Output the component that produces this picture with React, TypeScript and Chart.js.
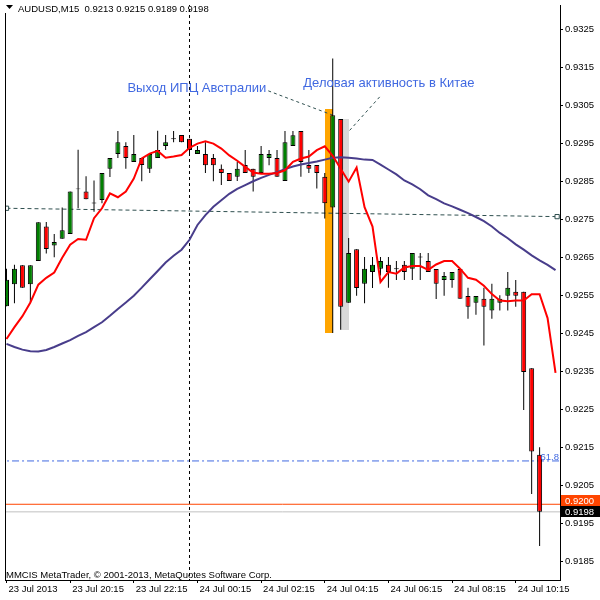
import React, { useEffect, useRef } from "react";
import { Chart, registerables } from "chart.js";

Chart.register(...registerables);

// ---------- data ----------
const symbolTitle = "AUDUSD,M15";

const opens = [
  0.92521, 0.92579, 0.92629, 0.92579, 0.9264, 0.92731, 0.92681, 0.92699, 0.92711, 0.9283,
  0.92823, 0.92793, 0.92801, 0.92883, 0.92922, 0.92943, 0.92901, 0.92911, 0.92883, 0.92911,
  0.92943, 0.92962, 0.92972, 0.92962, 0.92922, 0.92922, 0.92911, 0.92883, 0.92872, 0.92862,
  0.92893, 0.92883, 0.92872, 0.92911, 0.92911, 0.92851, 0.92943, 0.92982, 0.92893, 0.92893,
  0.92862, 0.92781, 0.93014, 0.9253, 0.92671, 0.9258, 0.92611, 0.9262, 0.9263, 0.9262,
  0.9263, 0.9262, 0.92651, 0.9264, 0.92619, 0.9259, 0.9259, 0.92619, 0.92548, 0.9253,
  0.92541, 0.9251, 0.9253, 0.92549, 0.92559, 0.92559, 0.92358, 0.9213,
];
const highs = [
  0.9262, 0.9263, 0.92629, 0.92629, 0.92742, 0.92743, 0.92711, 0.92781, 0.92823, 0.92933,
  0.92863, 0.92852, 0.92872, 0.92911, 0.92982, 0.92953, 0.92972, 0.92911, 0.92922, 0.92983,
  0.92972, 0.92982, 0.92972, 0.92962, 0.92943, 0.92953, 0.92922, 0.92894, 0.92872, 0.92901,
  0.92932, 0.92883, 0.92943, 0.92932, 0.92932, 0.92982, 0.92982, 0.92982, 0.92932, 0.92893,
  0.92872, 0.93173, 0.93014, 0.92701, 0.92671, 0.92651, 0.92651, 0.92651, 0.92651, 0.9264,
  0.9264, 0.92661, 0.92661, 0.92661, 0.92619, 0.92611, 0.92611, 0.92619, 0.9257, 0.92548,
  0.9257, 0.9258, 0.9255, 0.92611, 0.9259, 0.92559, 0.92358, 0.9215,
];
const lows = [
  0.92521, 0.92529, 0.9257, 0.92529, 0.9264, 0.9266, 0.9265, 0.92699, 0.92711, 0.92779,
  0.92803, 0.9277, 0.92792, 0.92861, 0.92911, 0.92883, 0.92901, 0.9285, 0.92872, 0.92911,
  0.92932, 0.92953, 0.92953, 0.92922, 0.92922, 0.92872, 0.9285, 0.9284, 0.92851, 0.92851,
  0.92872, 0.92823, 0.92872, 0.92892, 0.92862, 0.92851, 0.92943, 0.92862, 0.92872, 0.92831,
  0.92752, 0.92451, 0.92459, 0.9253, 0.92549, 0.92529, 0.92569, 0.92602, 0.9257, 0.9259,
  0.9259, 0.9259, 0.9259, 0.92611, 0.9254, 0.92549, 0.9257, 0.92541, 0.92488, 0.92499,
  0.92418, 0.92488, 0.9251, 0.9251, 0.9252, 0.92248, 0.92027, 0.9189,
];
const closes = [
  0.92591, 0.9262, 0.9257, 0.92629, 0.92742, 0.92672, 0.9269, 0.92721, 0.92823, 0.9283,
  0.92803, 0.92793, 0.92872, 0.92911, 0.92953, 0.92911, 0.92922, 0.92893, 0.92922, 0.92932,
  0.92953, 0.92962, 0.92953, 0.92932, 0.92932, 0.92892, 0.92892, 0.92872, 0.92851, 0.92883,
  0.92872, 0.92862, 0.92922, 0.92922, 0.92862, 0.92953, 0.92971, 0.92901, 0.92883, 0.92872,
  0.92792, 0.93024, 0.9252, 0.92661, 0.92569, 0.9262, 0.9263, 0.9264, 0.92611, 0.9262,
  0.92611, 0.92661, 0.92651, 0.92611, 0.9258, 0.92601, 0.92611, 0.92541, 0.9252, 0.92548,
  0.9252, 0.92541, 0.92541, 0.9257, 0.92549, 0.92348, 0.92139, 0.9198,
];

// fast (red) moving average, shifted 2 bars forward
const fastMA = [
  0.92435, 0.92466, 0.92495, 0.92531, 0.92578, 0.92596, 0.9261, 0.92649, 0.92683, 0.92698,
  0.92696, 0.92753, 0.92779, 0.92818, 0.92808, 0.92823, 0.92857, 0.9291, 0.92923, 0.9293,
  0.92912, 0.92915, 0.92919, 0.92938, 0.92949, 0.92955, 0.92949, 0.92936, 0.92918, 0.92904,
  0.92888, 0.92873, 0.9287, 0.9287, 0.92872, 0.92879, 0.92901, 0.9291, 0.92915, 0.92932,
  0.92942, 0.92917, 0.92883, 0.92849, 0.92886, 0.92782, 0.92731, 0.92585, 0.92611, 0.92607,
  0.92623, 0.92627, 0.92627, 0.92617, 0.92631, 0.9264, 0.9264, 0.9262, 0.92596, 0.92591,
  0.92575, 0.92553, 0.92536, 0.92534, 0.92536, 0.92536, 0.92553, 0.92553, 0.9249, 0.92346,
];
// slow (dark slate blue) moving average
const slowMA = [
  0.92422, 0.92414, 0.92407, 0.92403, 0.92402, 0.92406, 0.92414, 0.92423, 0.92432, 0.92443,
  0.92453, 0.92466, 0.92479, 0.92496, 0.92514, 0.92531, 0.92549, 0.9257, 0.92592, 0.92614,
  0.92636, 0.92654, 0.9267, 0.92696, 0.92735, 0.92761, 0.92783, 0.928, 0.92817, 0.9283,
  0.9284, 0.9285, 0.92859, 0.92867, 0.92874, 0.92882, 0.92889, 0.92894, 0.92898, 0.92902,
  0.92907, 0.92912, 0.92913, 0.92912, 0.9291, 0.92907, 0.92906, 0.92894, 0.92881, 0.92868,
  0.92852, 0.92842, 0.92829, 0.92813, 0.92803, 0.92792, 0.92784, 0.92775, 0.92766, 0.92756,
  0.92745, 0.92731, 0.92714, 0.927, 0.92684, 0.9267, 0.92655, 0.92642, 0.9263, 0.92616,
];

const xTickIndex = [0, 8, 16, 24, 32, 40, 48, 56, 64];
const xTickLabels = [
  "23 Jul 2013", "23 Jul 20:15", "23 Jul 22:15", "24 Jul 00:15", "24 Jul 02:15",
  "24 Jul 04:15", "24 Jul 06:15", "24 Jul 08:15", "24 Jul 10:15",
];
const yTickValues = [
  0.9185, 0.9195, 0.9205, 0.9215, 0.9225, 0.9235, 0.9245, 0.9255, 0.9265, 0.9275,
  0.9285, 0.9295, 0.9305, 0.9315, 0.9325,
];

const daySeparatorIndex = 23;
const trendLineIndex = [0, 69.2];
const trendLinePrice = [0.92779, 0.92757];
const fibPrice = 0.92114;
const fibText = "61.8";
const hLinePrice = 0.92;
const bidPrice = 0.9198;

// news rectangles: [fromIndex, toIndex, topPrice, bottomPrice]
const newsRectFrom = [40, 42];
const newsRectTo = [41, 43];
const newsRectTop = [0.9304, 0.93014];
const newsRectBottom = [0.92451, 0.92459];
const newsRectColors = ["#FFA500", "#D8D8D8"];

const newsTexts = ["Выход ИПЦ Австралии", "Деловая активность в Китае"];
const newsTextIndex = [15.2, 37.3];
const newsTextPrice = [0.93086, 0.93099];
// connectors: from (index, price) to (index, price)
const connFromIndex = [32.9, 46.9];
const connFromPrice = [0.93088, 0.93072];
const connToIndex = [41, 43];
const connToPrice = [0.93024, 0.92981];

const copyrightText = "MMCIS MetaTrader, © 2001-2013, MetaQuotes Software Corp.";

const yMin = 0.918007;
const yMax = 0.933139;
const xMin = -0.1875;
const xMax = 69.5625;

const UI_FONT = '"Liberation Sans", Arial, sans-serif';

export default function App() {
  const ref = useRef<HTMLCanvasElement | null>(null);

  useEffect(() => {
    if (!ref.current) return;

    const bodies = opens.map((o, i) => {
      const c = closes[i];
      let a = Math.min(o, c);
      let b = Math.max(o, c);
      if (b - a < 0.00003) {
        const m = (a + b) / 2;
        a = m - 0.000013;
        b = m + 0.000013;
      }
      return { x: i, y: [a, b] };
    });
    const bodyColors = opens.map((o, i) => (closes[i] >= o ? "#008000" : "#FF0000"));
    const wicks = opens.map((_, i) => ({ x: i, y: [lows[i], highs[i]] }));

    const overlay = {
      id: "mt4overlay",
      beforeDatasetsDraw(chart: any) {
        const { ctx, chartArea: ca } = chart;
        const xs = chart.scales.x;
        const ys = chart.scales.y;
        ctx.save();
        ctx.beginPath();
        ctx.rect(ca.left, ca.top, ca.right - ca.left, ca.bottom - ca.top);
        ctx.clip();
        newsRectFrom.forEach((f, i) => {
          const x1 = Math.round(xs.getPixelForValue(f));
          const x2 = Math.round(xs.getPixelForValue(newsRectTo[i]));
          const y1 = Math.round(ys.getPixelForValue(newsRectTop[i]));
          const y2 = Math.round(ys.getPixelForValue(newsRectBottom[i]));
          ctx.fillStyle = newsRectColors[i];
          ctx.fillRect(x1, y1, x2 - x1, y2 - y1);
        });
        ctx.restore();
      },
      afterDraw(chart: any) {
        const { ctx, chartArea: ca } = chart;
        const xs = chart.scales.x;
        const ys = chart.scales.y;
        ctx.save();
        // left frame
        ctx.strokeStyle = "#000";
        ctx.lineWidth = 1;
        ctx.beginPath();
        ctx.moveTo(ca.left + 0.5, 13);
        ctx.lineTo(ca.left + 0.5, ca.bottom + 0.5);
        ctx.stroke();

        // header
        ctx.fillStyle = "#000";
        ctx.beginPath();
        ctx.moveTo(6, 5);
        ctx.lineTo(13, 5);
        ctx.lineTo(9.5, 9);
        ctx.closePath();
        ctx.fill();
        const last = opens.length - 1;
        const hdr = `${symbolTitle}  ${opens[last].toFixed(4)} ${highs[last].toFixed(4)} ${lows[last].toFixed(4)} ${closes[last].toFixed(4)}`;
        ctx.font = `9.5px ${UI_FONT}`;
        ctx.textBaseline = "alphabetic";
        ctx.textAlign = "left";
        ctx.fillText(hdr, 18, 11.5);

        // copyright
        ctx.font = `9.5px ${UI_FONT}`;
        ctx.fillText(copyrightText, 6, 578);

        // news texts
        ctx.font = `13px ${UI_FONT}`;
        ctx.fillStyle = "#4169E1";
        newsTexts.forEach((t, i) => {
          ctx.fillText(t, xs.getPixelForValue(newsTextIndex[i]), ys.getPixelForValue(newsTextPrice[i]));
        });

        // fib label
        const fy = ys.getPixelForValue(fibPrice);
        ctx.font = `9.5px ${UI_FONT}`;
        ctx.textAlign = "right";
        ctx.fillText(fibText, ca.right - 1, fy - 1);

        // price labels on the right axis
        const by = ys.getPixelForValue(bidPrice);
        const hy = ys.getPixelForValue(hLinePrice);
        const bh = 11;
        const bTop = Math.round(by - bh / 2);
        let hTop = Math.round(hy - bh / 2);
        if (hTop + bh > bTop) hTop = bTop - bh;
        ctx.textAlign = "left";
        ctx.textBaseline = "middle";
        ctx.font = `9.5px ${UI_FONT}`;
        ctx.fillStyle = "#FF4500";
        ctx.fillRect(ca.right + 1, hTop, 600 - ca.right - 1, bh);
        ctx.fillStyle = "#FFFFFF";
        ctx.fillText(hLinePrice.toFixed(4), ca.right + 5, hTop + bh / 2 + 0.5);
        ctx.fillStyle = "#000000";
        ctx.fillRect(ca.right + 1, bTop, 600 - ca.right - 1, bh);
        ctx.fillStyle = "#FFFFFF";
        ctx.fillText(bidPrice.toFixed(4), ca.right + 5, bTop + bh / 2 + 0.5);
        ctx.restore();
      },
    };

    const hline = (price: number, color: string, dash: number[], order: number) => ({
      type: "line" as const,
      data: [
        { x: xMin - 1, y: price },
        { x: xMax + 1, y: price },
      ],
      borderColor: color,
      borderWidth: 1,
      borderDash: dash,
      pointRadius: 0,
      order,
    });

    const chart = new Chart(ref.current, {
      type: "bar",
      data: {
        datasets: [
          {
            type: "line",
            data: fastMA.map((v, i) => ({ x: i, y: v })),
            borderColor: "#FF0000",
            borderWidth: 2,
            pointRadius: 0,
            tension: 0,
            order: 0,
          },
          {
            type: "line",
            data: slowMA.map((v, i) => ({ x: i, y: v })),
            borderColor: "#483D8B",
            borderWidth: 2,
            pointRadius: 0,
            tension: 0,
            order: 0,
          },
          {
            type: "bar",
            data: bodies,
            backgroundColor: bodyColors,
            borderColor: "#000000",
            borderWidth: 1,
            borderSkipped: false,
            barThickness: 5,
            grouped: false,
            inflateAmount: 0,
            order: 1,
          } as any,
          {
            type: "bar",
            data: wicks,
            backgroundColor: "#000000",
            borderWidth: 0,
            barThickness: 1,
            grouped: false,
            inflateAmount: 0,
            order: 2,
          } as any,
          hline(fibPrice, "#4169E1", [7, 3, 2, 3], 3),
          hline(hLinePrice, "#FF4500", [], 3),
          hline(bidPrice, "#C0C0C0", [], 3),
          {
            type: "line",
            data: [
              { x: daySeparatorIndex, y: yMin - 0.01 },
              { x: daySeparatorIndex, y: yMax + 0.01 },
            ],
            borderColor: "#000000",
            borderWidth: 1,
            borderDash: [3, 3],
            pointRadius: 0,
            order: 3,
          },
          {
            type: "line",
            data: trendLineIndex.map((x, i) => ({ x, y: trendLinePrice[i] })),
            borderColor: "#2F4F4F",
            borderWidth: 1,
            borderDash: [4, 3],
            pointStyle: "rect",
            pointRadius: 3,
            pointBackgroundColor: "#FFFFFF",
            pointBorderColor: "#2F4F4F",
            pointBorderWidth: 1,
            order: 3,
          },
          ...connFromIndex.map((fx, i) => ({
            type: "line" as const,
            data: [
              { x: fx, y: connFromPrice[i] },
              { x: connToIndex[i], y: connToPrice[i] },
            ],
            borderColor: "#2F4F4F",
            borderWidth: 1,
            borderDash: [3, 3],
            pointRadius: 0,
            order: 3,
          })),
        ] as any,
      },
      options: {
        responsive: false,
        animation: false,
        events: [],
        layout: { padding: { left: 2, right: 0, top: 0, bottom: 0 } },
        plugins: {
          legend: { display: false },
          tooltip: { enabled: false },
        },
        scales: {
          x: {
            type: "linear",
            min: xMin,
            max: xMax,
            offset: false,
            grid: {
              display: true,
              drawOnChartArea: false,
              drawTicks: true,
              tickLength: 3,
              color: "#000000",
              offset: false,
            },
            border: { display: true, color: "#000000" },
            ticks: {
              autoSkip: false,
              maxRotation: 0,
              minRotation: 0,
              align: "start",
              labelOffset: 2,
              padding: 1,
              color: "#000000",
              font: { family: UI_FONT, size: 9.5 },
              callback: (_v: any, i: number) => xTickLabels[i] ?? "",
            },
            afterBuildTicks: (s: any) => {
              s.ticks = xTickIndex.map((v) => ({ value: v }));
            },
            afterFit: (s: any) => {
              s.height = 20;
              s.paddingLeft = 0;
              s.paddingRight = 0;
            },
          } as any,
          y: {
            type: "linear",
            position: "right",
            min: yMin,
            max: yMax,
            grid: {
              display: true,
              drawOnChartArea: false,
              drawTicks: true,
              tickLength: 3,
              color: "#000000",
            },
            border: { display: true, color: "#000000" },
            ticks: {
              padding: 2,
              color: "#000000",
              font: { family: UI_FONT, size: 9.5 },
              callback: (v: any) => Number(v).toFixed(4),
            },
            afterBuildTicks: (s: any) => {
              s.ticks = yTickValues.map((v) => ({ value: v }));
            },
            afterFit: (s: any) => {
              s.width = 40;
              s.paddingTop = 0;
              s.paddingBottom = 0;
            },
          } as any,
        },
      },
      plugins: [overlay],
    });

    return () => chart.destroy();
  }, []);

  return (
    <div style={{ position: "fixed", left: 0, top: 0, width: 600, height: 600, background: "#FFFFFF" }}>
      <canvas ref={ref} width={600} height={600} style={{ display: "block", width: 600, height: 600 }} />
    </div>
  );
}
